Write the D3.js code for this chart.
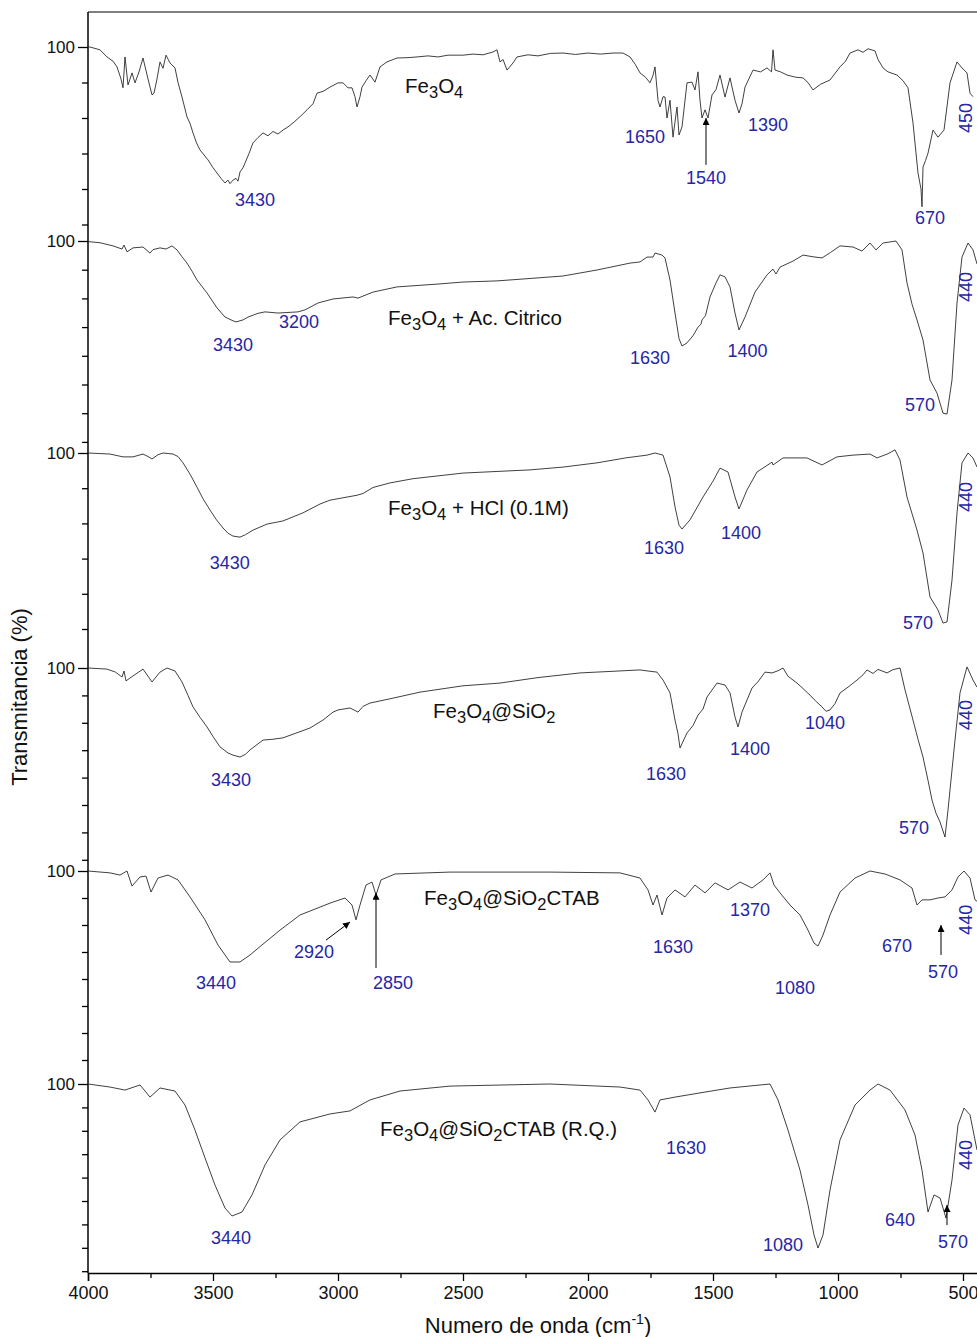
<!DOCTYPE html>
<html>
<head>
<meta charset="utf-8">
<script src="https://cdn.jsdelivr.net/npm/d3@7"></script>
<style>
  body { margin: 0; background: #fff; }
  text { font-family: "Liberation Sans", Arial, sans-serif; }
</style>
</head>
<body>
<div id="chart"></div>
<script>
// Espectros FTIR: [numero de onda (cm-1), transmitancia (%)]
const fe3o4 = [[4000,100],[3992,100],[3952,99.2],[3924,97.2],[3900,96],[3884,94.4],[3868,91],[3860,88.5],[3852,97.2],[3840,89.3],[3824,92.7],[3812,89.9],[3796,93],[3780,96.9],[3760,91],[3744,86.5],[3736,87],[3724,91],[3712,95.8],[3700,94],[3688,97.7],[3672,95.5],[3652,94.1],[3640,90],[3624,85.9],[3604,80.3],[3592,78.5],[3580,75.8],[3566,73],[3552,71],[3520,68.2],[3500,66],[3484,64.5],[3468,63],[3452,61.7],[3440,62.5],[3432,61.5],[3420,62.5],[3408,63],[3400,62.2],[3392,64.8],[3380,66],[3372,67.3],[3356,70],[3340,73],[3320,74.5],[3300,75.8],[3280,75],[3260,76.2],[3240,75.5],[3220,76.6],[3200,77.5],[3180,78.6],[3150,80.5],[3124,82.3],[3100,84],[3084,87],[3060,87.5],[3032,88.7],[3000,89.9],[2980,89.9],[2960,88.5],[2944,88.5],[2932,86],[2924,83.1],[2912,86],[2904,88.7],[2888,90.5],[2872,92.1],[2852,90.1],[2832,94.4],[2804,95.8],[2764,96.9],[2720,97],[2684,97.2],[2640,97.5],[2600,97.2],[2560,97.7],[2500,97.7],[2460,98],[2420,97.8],[2380,98.6],[2364,99.2],[2352,95.8],[2340,96.5],[2324,93.5],[2300,95.5],[2284,97.2],[2240,97.8],[2200,97.5],[2150,98.2],[2100,98.3],[2050,97.9],[2000,98.3],[1950,98],[1900,98.3],[1860,98.3],[1832,97.2],[1810,95],[1792,92.7],[1770,91.5],[1752,89.9],[1740,92],[1732,94.4],[1720,85],[1712,83.1],[1700,86],[1692,85.9],[1684,80],[1672,85],[1660,74.6],[1650,80],[1644,83.1],[1636,75.2],[1624,77.5],[1604,89.9],[1584,90.1],[1572,87.9],[1560,93],[1552,85],[1544,80],[1532,82.3],[1520,80],[1504,86.5],[1488,88],[1472,92.1],[1452,85.9],[1432,91.3],[1412,85],[1396,81.4],[1384,84],[1372,88.7],[1340,93.5],[1310,93],[1284,94.1],[1266,93],[1260,99.2],[1252,93.5],[1230,93],[1204,92.1],[1170,91.5],[1140,91.3],[1120,90],[1100,87.9],[1070,89.5],[1032,90.7],[992,94.4],[970,96],[952,98.3],[920,99.2],[900,98.5],[880,99.5],[852,98.9],[840,96.5],[820,94.1],[800,93],[764,92.1],[740,90.5],[720,88.5],[700,78.6],[680,64.5],[668,60],[664,55],[660,66.2],[650,68],[640,70.1],[620,76.6],[600,74.6],[576,76.6],[552,89.9],[524,95.8],[504,94.1],[484,92.7],[472,87],[460,86]];

const fe3o4Citrico = [[4000,99.8],[3952,99.4],[3900,98.3],[3864,97.2],[3856,98.6],[3844,96.2],[3820,97.6],[3780,97.9],[3752,95.8],[3740,97],[3712,97.6],[3688,97.2],[3664,98.3],[3644,96.9],[3624,94.5],[3604,92.3],[3584,89.5],[3564,86.4],[3524,81.9],[3484,76.7],[3452,73.5],[3420,72.2],[3408,71.8],[3380,72.5],[3360,73.5],[3320,74.8],[3292,75.3],[3240,74.9],[3160,75.3],[3132,76],[3080,78.4],[3020,79.8],[2940,80.5],[2920,80.1],[2860,82.2],[2764,84],[2600,85],[2500,85.7],[2364,86.1],[2300,86.5],[2100,87.8],[1964,89.9],[1832,92.3],[1792,92.7],[1764,94.4],[1740,94.4],[1732,95.8],[1704,95.1],[1692,94.1],[1672,86.4],[1652,74.9],[1636,66],[1624,63.4],[1604,64.5],[1580,67],[1560,70],[1548,71],[1544,72.5],[1530,74],[1512,80.5],[1490,85],[1472,88.2],[1452,87.5],[1432,84],[1412,74.9],[1396,69],[1372,73.5],[1332,82.2],[1284,88.2],[1260,90.2],[1248,88.5],[1232,90.9],[1180,93],[1140,95.1],[1100,94.5],[1064,94.1],[1030,96],[992,98.3],[940,97.9],[904,96.5],[872,99.3],[848,96.9],[820,99.3],[768,100],[744,96.9],[724,85.4],[704,78],[684,72.5],[660,65.5],[632,51.6],[604,47],[580,40],[564,39.7],[544,51.6],[524,78.4],[504,94.4],[480,99.3],[460,96.9],[444,92]];

const fe3o4HCl = [[4000,100],[3912,99.7],[3860,98.9],[3820,98.9],[3780,99.7],[3760,99],[3744,98.3],[3720,99.5],[3700,100],[3660,99.7],[3640,99],[3620,97.2],[3592,94],[3564,90.3],[3540,87],[3512,83.8],[3486,81],[3460,78.7],[3440,77.2],[3420,76.4],[3392,76.1],[3370,76.8],[3340,78.1],[3284,79.8],[3220,80.7],[3140,83],[3072,85.5],[3032,86.6],[2924,88],[2900,88.5],[2860,90.2],[2792,91.5],[2700,92.7],[2500,94.3],[2232,95.2],[2100,96],[1964,97.2],[1850,98.6],[1764,99.4],[1732,100],[1700,99.4],[1672,93.2],[1652,84.7],[1636,79.5],[1624,78.4],[1592,81],[1540,87.5],[1500,92],[1472,95.7],[1440,94.6],[1412,87.5],[1396,84.1],[1364,89.5],[1324,94.6],[1264,97.4],[1260,96.6],[1220,98.6],[1124,98.6],[1064,96.6],[1004,98.9],[940,99.4],[872,99.7],[844,98.6],[800,99.8],[772,100.9],[752,98],[724,87.5],[684,78.1],[660,71.6],[632,59.1],[600,55.4],[580,51.7],[564,52],[544,63.9],[524,83],[504,97.2],[480,100],[460,98.6],[444,96]];

const fe3o4SiO2 = [[4000,100],[3924,99.6],[3890,98.5],[3864,96.7],[3856,98.9],[3848,95.3],[3820,97.1],[3780,99.6],[3760,97],[3744,94.9],[3712,98.5],[3684,100],[3652,98.9],[3624,94.9],[3600,90],[3580,85.8],[3552,82],[3524,78.5],[3500,75],[3472,71.2],[3440,69],[3420,68.2],[3392,67.5],[3370,68.5],[3352,70.1],[3300,73.7],[3260,74],[3220,74.5],[3160,76.5],[3112,78.1],[3060,81],[3020,83.9],[3000,84.7],[2952,85.4],[2932,84.5],[2920,83.9],[2900,86],[2872,87.2],[2780,89],[2672,91.2],[2500,93.5],[2352,94.5],[2200,96.5],[2032,98.2],[1900,98.8],[1792,99.3],[1760,98.9],[1724,98.5],[1700,95.6],[1672,90.9],[1652,81],[1640,76],[1632,70.8],[1604,76.3],[1580,79],[1560,82.8],[1540,85],[1524,89.4],[1484,94.5],[1452,93.8],[1432,90.9],[1412,82.1],[1400,78.5],[1384,83.9],[1344,92.7],[1320,95],[1292,98.5],[1264,98.2],[1240,99],[1220,100],[1200,97],[1164,94.5],[1140,92.5],[1112,90.1],[1090,88],[1064,85.8],[1048,84.2],[1032,84.7],[1012,87],[992,90.9],[960,93],[924,95.6],[900,97.5],[884,99.3],[860,98],[840,99.5],[804,98.2],[780,99.4],[752,100],[732,92],[700,81],[680,74],[660,67.5],[640,59],[624,51.8],[608,47],[592,43.8],[572,38.3],[560,48.2],[532,73.7],[512,90.9],[484,100.4],[460,95.6],[444,93]];

const fe3o4CTAB = [[4000,100],[3912,99.3],[3872,98.5],[3844,100],[3824,94.4],[3792,97.8],[3768,98.1],[3748,92.2],[3720,97.4],[3680,98.5],[3640,96.7],[3592,90.4],[3532,81.9],[3480,72.6],[3432,66.3],[3392,66.3],[3352,68.9],[3304,72.6],[3232,78.1],[3152,83.7],[3032,88.1],[2972,90],[2944,87.4],[2928,81.9],[2912,87.4],[2888,94.8],[2864,95.9],[2848,91.1],[2828,96.7],[2772,98.9],[2552,99.6],[2152,99.6],[1872,99.3],[1792,97.4],[1760,93],[1740,87.4],[1724,91.1],[1704,83.7],[1684,90],[1652,93],[1612,90.4],[1572,94.8],[1532,91.9],[1492,95.6],[1440,93],[1392,95.9],[1344,93.7],[1300,96.7],[1272,99.3],[1256,94.8],[1232,91.9],[1192,87.4],[1152,83.7],[1120,78.1],[1096,73.3],[1080,72.2],[1060,76.3],[1032,83.7],[992,92.2],[932,97.4],[872,100],[812,98.9],[752,96.7],[704,93.7],[684,87.4],[664,89.3],[632,89.3],[600,90],[572,90.4],[544,93],[520,97.8],[496,100],[472,97.4],[452,89.3],[432,88]];

const fe3o4CTABrq = [[4000,100],[3912,98.7],[3852,97.4],[3792,99.6],[3752,94.4],[3712,98.3],[3652,97],[3612,91],[3572,80.3],[3532,68.4],[3492,56.8],[3452,47],[3424,43.6],[3384,45.3],[3344,52.6],[3292,65.4],[3232,76.1],[3152,83.8],[3032,87.2],[2952,88.5],[2872,93.2],[2752,97],[2552,99.1],[2152,100],[1872,98.7],[1792,97.4],[1760,93.2],[1732,88],[1712,93.2],[1652,94.4],[1552,96.2],[1432,98.3],[1272,100],[1240,93.2],[1200,80.3],[1152,63.2],[1120,48.3],[1096,35.5],[1080,29.9],[1060,35.5],[1032,54.7],[992,76.1],[932,91],[872,97.4],[840,100],[792,97.4],[732,88.9],[692,78.2],[664,63.2],[640,45.3],[616,52.6],[592,51.3],[568,42.7],[544,59],[520,82.5],[496,89.7],[472,86.8],[444,71.8]];

const spectra = [fe3o4, fe3o4Citrico, fe3o4HCl, fe3o4SiO2, fe3o4CTAB, fe3o4CTABrq];

// Nombres de las muestras ("_" marca subindice) y su posicion [cm-1, %T]
const sampleNames = ["Fe_3O_4", "Fe_3O_4 + Ac. Citrico", "Fe_3O_4 + HCl (0.1M)", "Fe_3O_4@SiO_2", "Fe_3O_4@SiO_2CTAB", "Fe_3O_4@SiO_2CTAB (R.Q.)"];
const nameAnchors = [[2732, 87], [2800, 70.6], [2800, 82.4], [2620, 81.8], [2656, 87.4], [2832, 77.8]];

// Etiquetas de picos: [texto, cm-1, %T, girada]
const peakLabels = [
  [["3430", 3332, 55.2], ["1650", 1772, 73], ["1540", 1528, 61.4], ["1390", 1280, 76.3], ["670", 632, 50.1], ["450", 490, 80, 1]],
  [["3430", 3420, 61.7], ["3200", 3156, 69.7], ["1630", 1752, 57.1], ["1400", 1362, 59.6], ["570", 672, 40.9], ["440", 490, 84, 1]],
  [["3430", 3433, 67], ["1630", 1696, 71.3], ["1400", 1388, 75.6], ["570", 680, 50], ["440", 490, 87.5, 1]],
  [["3430", 3428, 56.9], ["1630", 1688, 59.1], ["1400", 1352, 68.2], ["1040", 1052, 77.7], ["570", 696, 39.4], ["440", 490, 82.8, 1]],
  [["3440", 3488, 56.3], ["2920", 3096, 67.8], ["2850", 2780, 56.3], ["1630", 1660, 69.6], ["1370", 1352, 83.3], ["1080", 1172, 54.4], ["670", 764, 70], ["570", 580, 60.4], ["440", 490, 81.9, 1]],
  [["3440", 3428, 31.6], ["1630", 1608, 70.1], ["1080", 1220, 28.6], ["640", 752, 39.3], ["570", 540, 29.9], ["440", 490, 69.7, 1]]
];

// Flechas: [cm-1 inicio, %T inicio, cm-1 fin, %T fin]
const arrowMarks = [
  [[1528, 66.8, 1528, 80]],
  [], [], [],
  [[3048, 74.4, 2952, 81.1], [2848, 64.1, 2848, 91.9], [588, 68.9, 588, 80]],
  [[564, 39.7, 564, 48.3]]
];

const xTicks = [4000, 3500, 3000, 2500, 2000, 1500, 1000, 500];
const xMinorTicks = [3750, 3250, 2750, 2250, 1750, 1250, 750];

// Geometria de cada capa (pixeles)
const layers = [
  { y100: 47, step: 35.5, n: 5 },
  { y100: 241, step: 28.7, n: 7 },
  { y100: 453, step: 35.2, n: 5 },
  { y100: 668, step: 27.4, n: 7 },
  { y100: 871, step: 27, n: 7 },
  { y100: 1084, step: 23.4, n: 8 }
];

const width = 977, height = 1337;
const plot = { left: 88, top: 12, bottom: 1273 };
const blue = "#2626a6";

const svg = d3.select("#chart").append("svg")
  .attr("width", width)
  .attr("height", height);

svg.append("defs").append("marker")
  .attr("id", "head")
  .attr("viewBox", "0 0 10 10")
  .attr("refX", 10).attr("refY", 5)
  .attr("markerWidth", 7).attr("markerHeight", 7)
  .attr("markerUnits", "userSpaceOnUse")
  .attr("orient", "auto")
  .append("path").attr("d", "M0,0 L10,5 L0,10 z").attr("fill", "#000");

const x = d3.scaleLinear().domain([4000, 400]).range([plot.left, plot.left + 900]);

// marco
svg.append("line")
  .attr("x1", plot.left).attr("x2", width)
  .attr("y1", plot.top).attr("y2", plot.top)
  .attr("stroke", "#000").attr("stroke-width", 1.2);
svg.append("line")
  .attr("x1", plot.left).attr("x2", plot.left)
  .attr("y1", plot.top).attr("y2", plot.bottom)
  .attr("stroke", "#000").attr("stroke-width", 1.5);

// texto con subindices
function addSubText(sel, str, size, subSize) {
  let low = false;
  str.split(/(_.)/).filter(s => s.length).forEach(part => {
    const sub = part[0] === "_";
    sel.append("tspan")
      .attr("font-size", sub ? subSize : size)
      .attr("dy", sub === low ? 0 : (sub ? 5 : -5))
      .text(sub ? part[1] : part);
    low = sub;
  });
}

layers.forEach((L, i) => {
  const y = d3.scaleLinear()
    .domain([100 - 10 * L.n, 100])
    .range([L.y100 + L.n * L.step, L.y100]);

  const g = svg.append("g");

  // eje Y de la capa
  const major = g.append("g")
    .attr("transform", `translate(${plot.left},0)`)
    .call(d3.axisLeft(y).tickValues([100]).tickSize(10).tickPadding(3));
  major.select(".domain").remove();
  major.selectAll("text").attr("font-size", 17).attr("fill", "#111")
    .attr("font-family", "Liberation Sans, Arial, sans-serif");
  major.selectAll("line").attr("stroke-width", 1.3);

  const minor = g.append("g")
    .attr("transform", `translate(${plot.left},0)`)
    .call(d3.axisLeft(y).tickValues(d3.range(1, L.n + 1).map(k => 100 - 10 * k)).tickSize(6).tickFormat(""));
  minor.select(".domain").remove();
  minor.selectAll("line").attr("stroke-width", 1.3);

  // espectro
  g.append("path")
    .datum(spectra[i])
    .attr("fill", "none")
    .attr("stroke", "#2a2a2a")
    .attr("stroke-width", 0.9)
    .attr("d", d3.line().x(d => x(d[0])).y(d => y(d[1])));

  // nombre de la muestra
  const t = g.append("text")
    .attr("x", x(nameAnchors[i][0]))
    .attr("y", y(nameAnchors[i][1]))
    .attr("fill", "#111");
  addSubText(t, sampleNames[i], 20.5, 16.5);

  // etiquetas de picos
  peakLabels[i].forEach(p => {
    if (p[3]) {
      g.append("text")
        .attr("transform", `translate(${x(p[1])},${y(p[2])}) rotate(-90)`)
        .attr("text-anchor", "middle")
        .attr("dominant-baseline", "central")
        .attr("font-size", 18)
        .attr("fill", blue)
        .text(p[0]);
    } else {
      g.append("text")
        .attr("x", x(p[1])).attr("y", y(p[2]))
        .attr("text-anchor", "middle")
        .attr("font-size", 18)
        .attr("fill", blue)
        .text(p[0]);
    }
  });

  // flechas
  arrowMarks[i].forEach(a => {
    g.append("line")
      .attr("x1", x(a[0])).attr("y1", y(a[1]))
      .attr("x2", x(a[2])).attr("y2", y(a[3]))
      .attr("stroke", "#000").attr("stroke-width", 1)
      .attr("marker-end", "url(#head)");
  });
});

// eje X
const xAxis = svg.append("g")
  .attr("transform", `translate(0,${plot.bottom})`)
  .call(d3.axisBottom(x).tickValues(xTicks).tickSize(8).tickPadding(5).tickFormat(d3.format("d")));
xAxis.select(".domain").attr("stroke-width", 1.5);
xAxis.selectAll("line").attr("stroke-width", 1.3);
xAxis.selectAll("text").attr("font-size", 18).attr("fill", "#111")
  .attr("font-family", "Liberation Sans, Arial, sans-serif");

const xMinor = svg.append("g")
  .attr("transform", `translate(0,${plot.bottom})`)
  .call(d3.axisBottom(x).tickValues(xMinorTicks).tickSize(5).tickFormat(""));
xMinor.select(".domain").remove();
xMinor.selectAll("line").attr("stroke-width", 1.3);

// titulos de ejes
const xt = svg.append("text")
  .attr("x", 538).attr("y", 1333)
  .attr("text-anchor", "middle")
  .attr("font-size", 22)
  .attr("fill", "#111");
xt.append("tspan").text("Numero de onda (cm");
xt.append("tspan").attr("font-size", 14).attr("dy", -9).text("-1");
xt.append("tspan").attr("dy", 9).text(")");

svg.append("text")
  .attr("transform", "translate(27,697) rotate(-90)")
  .attr("text-anchor", "middle")
  .attr("font-size", 22)
  .attr("fill", "#111")
  .text("Transmitancia (%)");
</script>
</body>
</html>
